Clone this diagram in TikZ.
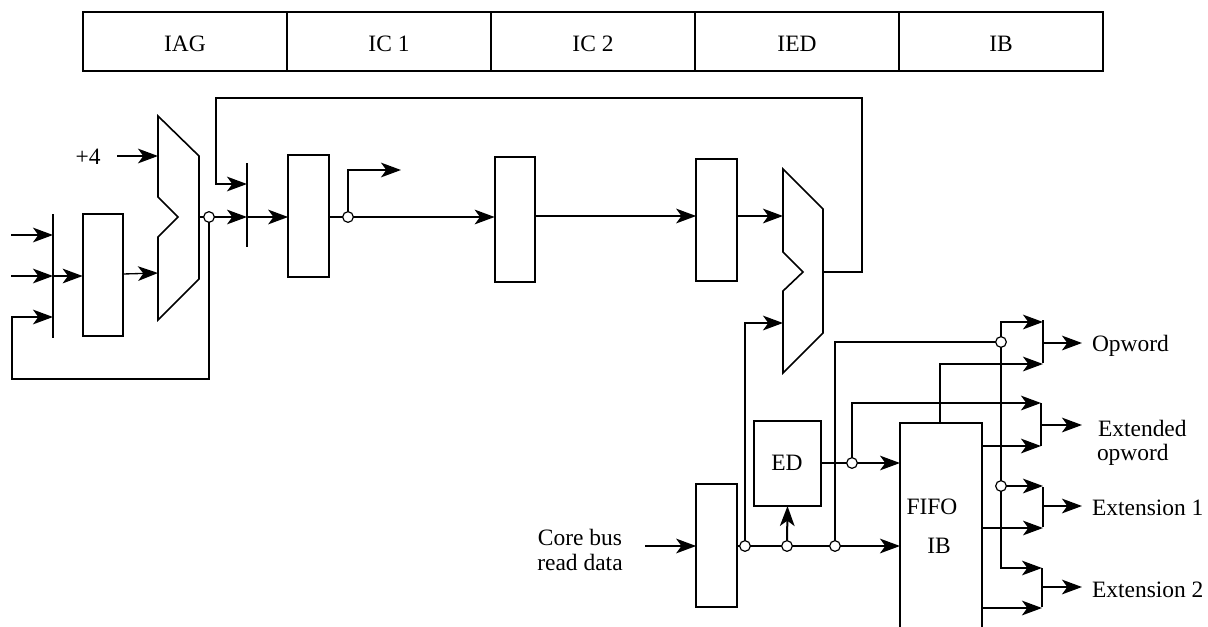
\documentclass[tikz,border=0pt]{standalone}
\usepackage{fontspec}
\setmainfont{Liberation Serif}
\usepackage{tikz}
\usetikzlibrary{arrows.meta}
\usetikzlibrary{positioning}
\tikzset{
    regbox/.style={
           rectangle,
           draw=black, line width=1.5pt,
           minimum width=30.5pt,
           minimum height=92pt,
           inner sep=0pt,
           outer sep=0pt,
           },
    stagebox/.style={
           regbox,
           minimum width=153pt,
           minimum height=44.25pt,
           },
    latchbar/.style={
           rectangle,
           fill=black,
           minimum width=1.5pt,
           inner sep=0pt,
           outer sep=0pt,
           },
    junction/.style={
           circle,
           draw=black, line width=0.9pt,
           fill=white,
           minimum size=8pt,
           inner sep=0pt,
           outer sep=0pt,
           },
    wire/.style={line width=1.5pt},
    thinwire/.style={line width=1pt},
    muxline/.style={-, line width=1.2pt, line join=miter},
    label/.style={inner sep=0pt, outer sep=0pt, font=\fontsize{17.6}{18.75}\selectfont},
}

\begin{document}
\begin{tikzpicture}[x=0.75pt,y=-0.75pt,->,wire,>={Stealth[length=15pt,width=11pt,inset=4pt]}]
 \useasboundingbox (0,0) rectangle (1208,626);
 \clip (0,0) rectangle (1208,626);

 % Stage table across the top
 \node[stagebox] (IAG) at (185,41.5) {};
 \node[stagebox,right=0pt of IAG] (IC 1) {};
 \node[stagebox,right=0pt of IC 1] (IC 2) {};
 \node[stagebox,right=0pt of IC 2] (IED) {};
 \node[stagebox,right=0pt of IED] (IB) {};
 \node[label] (IAG text) at (185,44) {IAG};
 \node[label] (IC 1 text) at (389,44) {IC 1};
 \node[label] (IC 2 text) at (593,44) {IC 2};
 \node[label] (IED text) at (797,44) {IED};
 \node[label] (IB text) at (1001,44) {IB};

 % Registers
 \node[regbox,minimum height=91.5pt] (Reg A) at (103,275) {};
 \node[regbox,minimum height=91.5pt] (Reg B) at (308.5,216) {};
 \node[regbox,minimum height=94pt] (Reg C) at (515,219.5) {};
 \node[regbox,minimum height=91.5pt] (Reg D) at (716.5,220) {};
 \node[regbox,minimum height=92pt] (Reg E) at (716.5,545.5) {};

 % ED box and the FIFO, which runs off the bottom edge
 \node[regbox,minimum width=50.25pt,minimum height=63.75pt] (ED) at (787.5,463.5) {};
 \node[regbox,minimum width=61.5pt,minimum height=180pt] (FIFO) at (941,543) {};
 \node[label] (ED text) at (787,463) {ED};
 \node[label] (FIFO text) at (932,507) {FIFO};
 \node[label] (IB FIFO text) at (939,546) {IB};

 % Latch bars
 \node[latchbar,minimum height=93pt] (Bar A) at (53,276) {};
 \node[latchbar,minimum height=63pt] (Bar B) at (247,205) {};
 \node[latchbar,minimum height=32.5pt] (Sel A) at (1043,341.5) {};
 \node[latchbar,minimum height=32.5pt] (Sel B) at (1041,424.5) {};
 \node[latchbar,minimum height=30pt] (Sel C) at (1043,506.5) {};
 \node[latchbar,minimum height=29.5pt] (Sel D) at (1042,587.5) {};

 % Adders with their notch
 \draw[muxline] (158,116) -- (199,156) -- (199,279) -- (158,320) -- (158,237)
   -- (178,217) -- (158,197) -- cycle;
 \draw[muxline] (783,169) -- (823,209) -- (823,333) -- (783,373) -- (783,291)
   -- (803,272) -- (783,252) -- cycle;
 \coordinate (Mux A top) at (158,156);
 \coordinate (Mux A low) at (158,273);
 \coordinate (Mux A out) at (199,217);
 \coordinate (Mux B top) at (783,216);
 \coordinate (Mux B low) at (783,323);
 \coordinate (Mux B out) at (823,272);

 % Junction dots
 \node[junction] (Dot A) at (209,217) {};
 \node[junction] (Dot B) at (348,217) {};
 \node[junction] (Dot C) at (745,546) {};
 \node[junction] (Dot D) at (787,546) {};
 \node[junction] (Dot E) at (835,546) {};
 \node[junction] (Dot F) at (852,463) {};
 \node[junction] (Dot G) at (1001,342) {};
 \node[junction] (Dot H) at (1001,486) {};

 % Free ends
 \coordinate (In A) at (11,235);
 \coordinate (In B) at (11,276);
 \coordinate (In C) at (12,317);
 \coordinate (Tap) at (401,170);
 \coordinate (Bus In) at (645,546);
 \node[label] (Plus Four) at (88,157) {+4};
 \coordinate (Plus Arrow) at (117,156);
 \node[label,align=center] (Core Bus) at (580,550) {Core bus\\read data};

 % Texts and ends of the output arrows
 \node[label,anchor=west] (Opword) at (1092,346) {Opword};
 \node[label,anchor=west] (Extended) at (1098,428) {Extended};
 \node[label,anchor=west] (Opword B) at (1097,455) {opword};
 \node[label,anchor=west] (Ext One) at (1092,508) {Extension 1};
 \node[label,anchor=west] (Ext Two) at (1092,590) {Extension 2};
 \coordinate (Out A) at (1082,343);
 \coordinate (Out B) at (1082,425);
 \coordinate (Out C) at (1082,506);
 \coordinate (Out D) at (1082,587);

 % the paths on the left
 \draw (In A) -- (In A -| Bar A);
 \draw (In B) -- (In B -| Bar A);
 \draw (In B -| Bar A) -- (In B -| Reg A.west);
 \draw (Dot A) -- (209,379) -- (12,379) -- (In C) -- (In C -| Bar A);
 \draw[thinwire] (123,274) -- (Mux A low);
 \draw (Plus Arrow) -- (Mux A top);
 \draw[-,thinwire] (Mux A out) -- (Dot A);
 \draw[thinwire] (Dot A) -- (Dot A -| Bar B);
 \draw (Dot A -| Bar B) -- (Dot A -| Reg B.west);
 \draw (Mux B out) -- (862,272) -- (862,98) -- (216,98) -- (216,184) -- (247,184);

 % the paths through the pipeline
 \draw[-] (Reg B.east |- Dot B) -- (Dot B);
 \draw (Dot B) -- (348,170) -- (Tap);
 \draw (Dot B) -- (Reg C.west |- Dot B);
 \draw (Reg C.east |- Mux B top) -- (Reg D.west |- Mux B top);
 \draw (Reg D.east |- Mux B top) -- (Mux B top);

 % the paths at the bottom
 \draw (Bus In) -- (Reg E.west |- Bus In);
 \draw[-,thinwire] (Reg E.east |- Dot C) -- (Dot C);
 \draw (Dot C) -- (Dot C |- Mux B low) -- (Mux B low);
 \draw[-] (Dot C) -- (Dot D);
 \draw (Dot D) -- (ED.south);
 \draw[-] (Dot D) -- (Dot E);
 \draw (Dot E) -- (FIFO.west |- Dot E);
 \draw[-] (Dot E) -- (Dot E |- Dot G) -- (Dot G);
 \draw[-,thinwire] (ED.east |- Dot F) -- (Dot F);
 \draw[thinwire] (Dot F) -- (FIFO.west |- Dot F);
 \draw (Dot F) -- (852,403) -- (1041,403);

 % the paths into the selectors
 \draw (Dot G) -- (1001,322) -- (1043,322);
 \draw[-,thinwire] (Dot G) -- (Dot H);
 \draw (Dot H) -- (Dot H -| Sel C);
 \draw[thinwire] (Dot H) -- (1001,568) -- (1042,568);
 \draw (FIFO.north -| 940,0) -- (940,364) -- (1043,364);
 \draw (FIFO.east |- 0,446) -- (1041,446);
 \draw[thinwire] (FIFO.east |- 0,528) -- (1043,528);
 \draw (FIFO.east |- 0,608) -- (1042,608);
 \draw (Sel A.east |- Out A) -- (Out A);
 \draw (Sel B.east |- Out B) -- (Out B);
 \draw (Sel C.east |- Out C) -- (Out C);
 \draw (Sel D.east |- Out D) -- (Out D);

\end{tikzpicture}
\end{document}
